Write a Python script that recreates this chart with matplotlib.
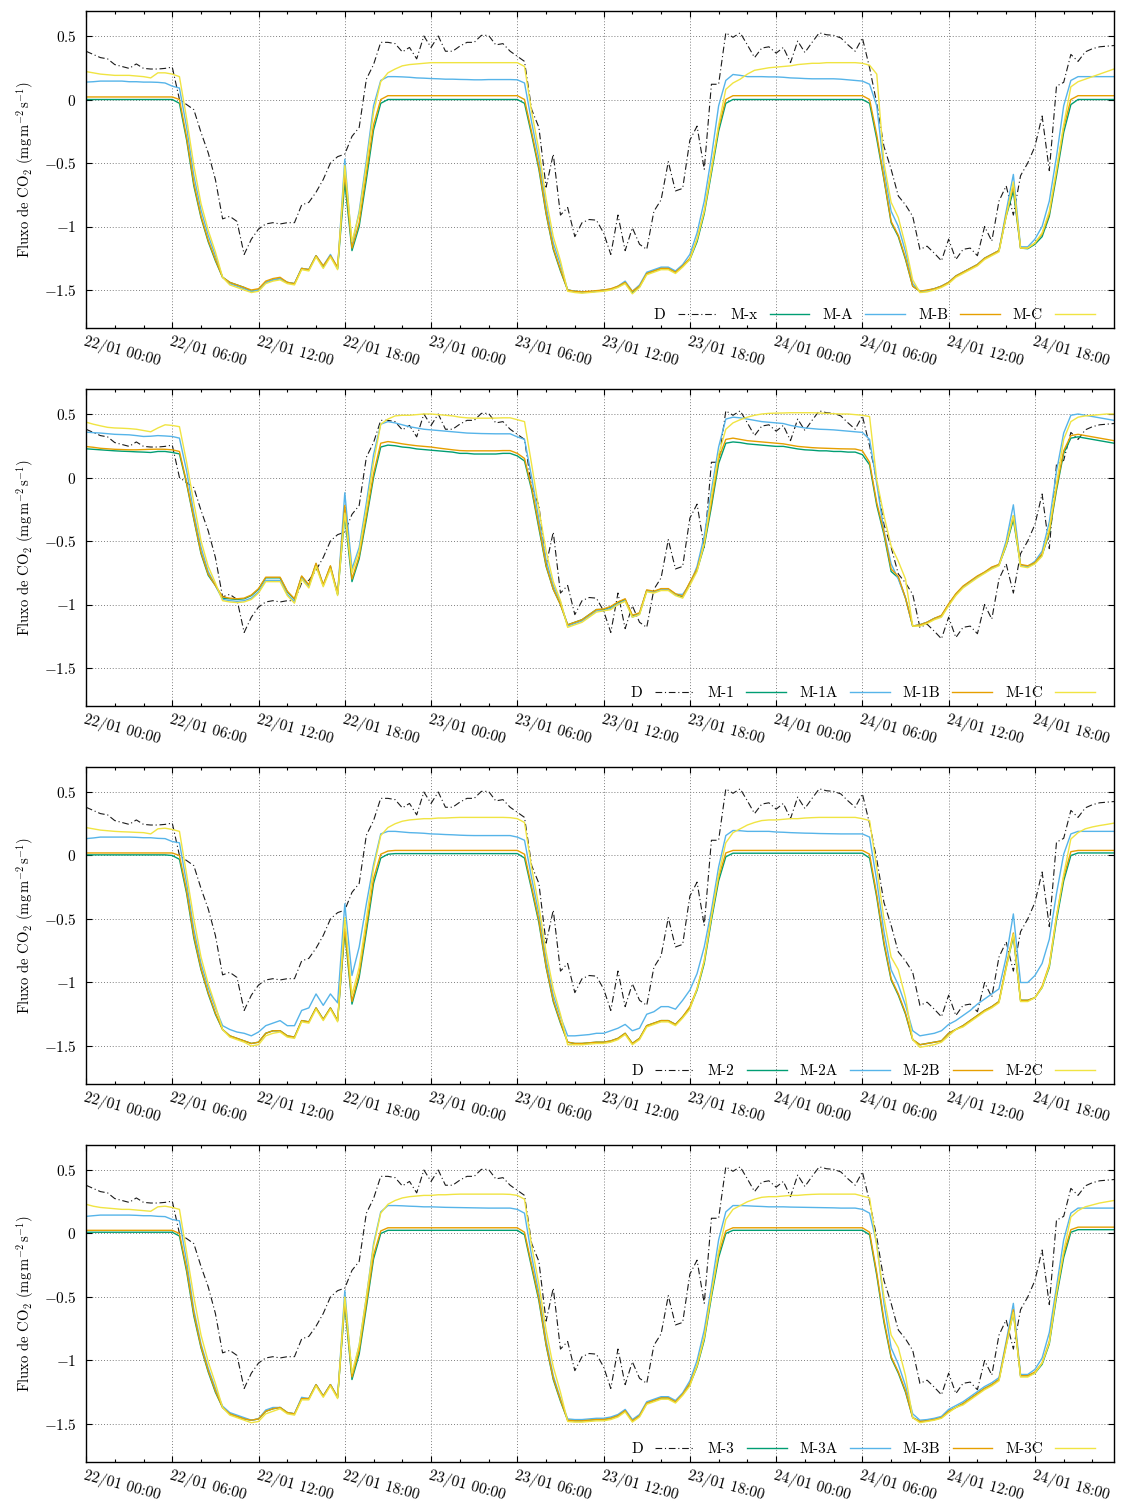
import matplotlib
matplotlib.use("Agg")
import matplotlib.pyplot as plt
import matplotlib.dates as mdates
from matplotlib.ticker import MultipleLocator, FuncFormatter
import pandas as pd

plt.rcParams["font.family"] = "serif"
plt.rcParams["font.serif"] = ["cmr10"]
plt.rcParams["mathtext.fontset"] = "cm"
plt.rcParams["axes.formatter.use_mathtext"] = True

# half-hourly time stamps, 22/01 00:00 -> 24/01 23:30
times = pd.date_range("2016-01-22 00:00", periods=144, freq="30min")

# measured flux (same in every panel)
obs = [0.38, 0.355, 0.33, 0.32, 0.275, 0.26, 0.245, 0.28, 0.245, 0.24, 0.24, 0.245,
       0.255, 0.0, -0.04, -0.08, -0.26, -0.42, -0.63, -0.94, -0.92, -0.96, -1.22, -1.10,
       -1.02, -0.98, -0.97, -0.98, -0.97, -0.97, -0.83, -0.81, -0.73, -0.63, -0.50, -0.45,
       -0.43, -0.29, -0.22, 0.16, 0.275, 0.45, 0.45, 0.44, 0.375, 0.41, 0.32, 0.50,
       0.41, 0.50, 0.38, 0.38, 0.42, 0.45, 0.45, 0.505, 0.505, 0.43, 0.44, 0.38,
       0.34, 0.30, -0.08, -0.22, -0.69, -0.43, -0.91, -0.85, -1.08, -0.97, -0.945, -0.95,
       -1.05, -1.22, -0.91, -1.19, -1.01, -1.14, -1.18, -0.88, -0.79, -0.49, -0.72, -0.70,
       -0.32, -0.21, -0.55, 0.12, 0.12, 0.525, 0.49, 0.525, 0.43, 0.33, 0.405, 0.415,
       0.365, 0.41, 0.29, 0.46, 0.37, 0.45, 0.525, 0.51, 0.505, 0.485, 0.43, 0.38,
       0.485, 0.25, -0.03, -0.37, -0.55, -0.76, -0.83, -0.92, -1.18, -1.155, -1.21, -1.27,
       -1.10, -1.26, -1.18, -1.17, -1.23, -1.0, -1.115, -0.80, -0.68, -0.91, -0.60, -0.50,
       -0.37, -0.13, -0.56, 0.105, 0.135, 0.355, 0.30, 0.375, 0.40, 0.415, 0.42, 0.425]

# ---- panel 1 ----
mx = [0.0, 0.0, 0.0, 0.0, 0.0, 0.0, 0.0, 0.0, 0.0, 0.0, 0.0, 0.0,
      0.0, -0.03, -0.32, -0.68, -0.93, -1.12, -1.27, -1.40, -1.44, -1.46, -1.48, -1.51,
      -1.50, -1.44, -1.42, -1.41, -1.44, -1.45, -1.33, -1.34, -1.23, -1.32, -1.23, -1.33,
      -0.65, -1.19, -1.00, -0.63, -0.24, -0.03, 0.0, 0.0, 0.0, 0.0, 0.0, 0.0,
      0.0, 0.0, 0.0, 0.0, 0.0, 0.0, 0.0, 0.0, 0.0, 0.0, 0.0, 0.0,
      0.0, -0.03, -0.28, -0.55, -0.90, -1.18, -1.35, -1.50, -1.51, -1.515, -1.515, -1.51,
      -1.50, -1.495, -1.475, -1.44, -1.52, -1.475, -1.37, -1.35, -1.33, -1.33, -1.36, -1.31,
      -1.26, -1.12, -0.90, -0.58, -0.25, -0.03, 0.0, 0.0, 0.0, 0.0, 0.0, 0.0,
      0.0, 0.0, 0.0, 0.0, 0.0, 0.0, 0.0, 0.0, 0.0, 0.0, 0.0, 0.0,
      0.0, -0.03, -0.31, -0.63, -0.97, -1.08, -1.26, -1.47, -1.51, -1.505, -1.49, -1.47,
      -1.44, -1.39, -1.36, -1.33, -1.30, -1.25, -1.22, -1.19, -0.92, -0.72, -1.17, -1.175,
      -1.14, -1.08, -0.92, -0.60, -0.26, -0.04, 0.0, 0.0, 0.0, 0.0, 0.0, 0.0]
mxa = [0.137, 0.14, 0.145, 0.145, 0.145, 0.145, 0.14, 0.14, 0.137, 0.137, 0.135, 0.13,
       0.105, 0.09, -0.22, -0.60, -0.87, -1.07, -1.23, -1.40, -1.45, -1.47, -1.49, -1.51,
       -1.50, -1.44, -1.42, -1.41, -1.44, -1.45, -1.33, -1.34, -1.23, -1.31, -1.22, -1.33,
       -0.47, -1.15, -0.88, -0.48, -0.05, 0.15, 0.18, 0.18, 0.178, 0.175, 0.17, 0.168,
       0.165, 0.163, 0.16, 0.16, 0.158, 0.157, 0.155, 0.155, 0.157, 0.157, 0.157, 0.157,
       0.155, 0.13, -0.18, -0.47, -0.84, -1.13, -1.30, -1.50, -1.51, -1.52, -1.515, -1.51,
       -1.50, -1.495, -1.47, -1.43, -1.51, -1.46, -1.36, -1.34, -1.32, -1.32, -1.35, -1.30,
       -1.22, -1.05, -0.80, -0.45, -0.05, 0.15, 0.197, 0.19, 0.18, 0.18, 0.18, 0.178,
       0.178, 0.175, 0.17, 0.168, 0.165, 0.163, 0.163, 0.163, 0.163, 0.16, 0.155, 0.15,
       0.145, 0.12, -0.05, -0.55, -0.88, -1.00, -1.20, -1.45, -1.51, -1.505, -1.49, -1.47,
       -1.44, -1.39, -1.36, -1.33, -1.30, -1.25, -1.22, -1.19, -0.88, -0.59, -1.16, -1.16,
       -1.10, -1.00, -0.80, -0.45, -0.05, 0.15, 0.18, 0.18, 0.18, 0.18, 0.18, 0.18]
mxb = [0.02, 0.02, 0.02, 0.02, 0.02, 0.02, 0.02, 0.02, 0.02, 0.02, 0.02, 0.02,
       0.02, 0.0, -0.30, -0.66, -0.92, -1.11, -1.26, -1.40, -1.44, -1.46, -1.48, -1.50,
       -1.49, -1.43, -1.41, -1.40, -1.44, -1.45, -1.33, -1.34, -1.23, -1.31, -1.23, -1.32,
       -0.58, -1.17, -0.97, -0.58, -0.20, 0.0, 0.03, 0.03, 0.03, 0.03, 0.03, 0.03,
       0.03, 0.03, 0.03, 0.03, 0.03, 0.03, 0.03, 0.03, 0.03, 0.03, 0.03, 0.03,
       0.03, 0.0, -0.26, -0.53, -0.89, -1.17, -1.34, -1.50, -1.51, -1.515, -1.51, -1.505,
       -1.50, -1.49, -1.47, -1.44, -1.51, -1.47, -1.37, -1.35, -1.33, -1.33, -1.36, -1.31,
       -1.25, -1.10, -0.88, -0.55, -0.22, 0.0, 0.03, 0.03, 0.03, 0.03, 0.03, 0.03,
       0.03, 0.03, 0.03, 0.03, 0.03, 0.03, 0.03, 0.03, 0.03, 0.03, 0.03, 0.03,
       0.03, 0.0, -0.28, -0.62, -0.96, -1.07, -1.25, -1.47, -1.51, -1.50, -1.49, -1.47,
       -1.44, -1.39, -1.36, -1.33, -1.30, -1.25, -1.22, -1.19, -0.91, -0.68, -1.17, -1.17,
       -1.13, -1.06, -0.90, -0.57, -0.22, 0.0, 0.03, 0.03, 0.03, 0.03, 0.03, 0.03]
mxc = [0.22, 0.21, 0.20, 0.195, 0.19, 0.19, 0.19, 0.185, 0.18, 0.17, 0.21, 0.21,
       0.20, 0.18, -0.15, -0.52, -0.82, -1.03, -1.20, -1.40, -1.46, -1.48, -1.50, -1.52,
       -1.51, -1.45, -1.43, -1.42, -1.45, -1.46, -1.34, -1.35, -1.24, -1.33, -1.24, -1.34,
       -0.52, -1.12, -0.90, -0.52, -0.10, 0.14, 0.21, 0.24, 0.265, 0.275, 0.28, 0.285,
       0.29, 0.29, 0.29, 0.29, 0.29, 0.29, 0.29, 0.29, 0.29, 0.29, 0.29, 0.29,
       0.29, 0.26, -0.10, -0.40, -0.78, -1.08, -1.27, -1.51, -1.52, -1.525, -1.52, -1.515,
       -1.51, -1.50, -1.48, -1.45, -1.53, -1.48, -1.38, -1.36, -1.34, -1.34, -1.37, -1.32,
       -1.26, -1.10, -0.88, -0.55, -0.20, 0.08, 0.13, 0.16, 0.20, 0.23, 0.24, 0.25,
       0.255, 0.26, 0.265, 0.275, 0.28, 0.285, 0.285, 0.29, 0.29, 0.29, 0.29, 0.29,
       0.285, 0.27, 0.20, -0.50, -0.81, -0.93, -1.15, -1.42, -1.52, -1.515, -1.50, -1.48,
       -1.45, -1.40, -1.37, -1.34, -1.31, -1.26, -1.23, -1.20, -0.92, -0.65, -1.17, -1.17,
       -1.13, -1.05, -0.88, -0.55, -0.20, 0.10, 0.14, 0.16, 0.18, 0.20, 0.22, 0.24]

# ---- panel 2 ----
m1 = [0.226, 0.222, 0.218, 0.214, 0.21, 0.207, 0.205, 0.202, 0.20, 0.197, 0.205, 0.205,
      0.197, 0.186, -0.05, -0.33, -0.60, -0.77, -0.85, -0.95, -0.955, -0.96, -0.955, -0.93,
      -0.88, -0.79, -0.79, -0.79, -0.90, -0.96, -0.78, -0.85, -0.68, -0.85, -0.70, -0.92,
      -0.30, -0.82, -0.64, -0.33, 0.0, 0.24, 0.255, 0.25, 0.24, 0.235, 0.225, 0.22,
      0.215, 0.21, 0.205, 0.20, 0.19, 0.19, 0.185, 0.185, 0.185, 0.185, 0.19, 0.19,
      0.17, 0.13, -0.10, -0.40, -0.70, -0.88, -1.00, -1.16, -1.14, -1.12, -1.08, -1.04,
      -1.04, -1.02, -0.985, -0.96, -1.09, -1.07, -0.89, -0.90, -0.88, -0.88, -0.92, -0.94,
      -0.83, -0.73, -0.54, -0.23, 0.11, 0.27, 0.28, 0.275, 0.265, 0.26, 0.255, 0.25,
      0.245, 0.245, 0.235, 0.225, 0.218, 0.215, 0.21, 0.21, 0.205, 0.205, 0.20, 0.20,
      0.18, 0.10, -0.22, -0.45, -0.74, -0.79, -0.95, -1.17, -1.16, -1.14, -1.11, -1.09,
      -1.00, -0.92, -0.86, -0.82, -0.78, -0.75, -0.71, -0.69, -0.54, -0.33, -0.69, -0.70,
      -0.675, -0.61, -0.44, -0.10, 0.19, 0.31, 0.32, 0.31, 0.30, 0.29, 0.28, 0.27]
m1a = [0.357, 0.353, 0.35, 0.345, 0.34, 0.338, 0.336, 0.33, 0.323, 0.325, 0.33, 0.327,
       0.323, 0.31, 0.05, -0.28, -0.55, -0.74, -0.85, -0.96, -0.97, -0.975, -0.97, -0.95,
       -0.90, -0.81, -0.81, -0.81, -0.92, -0.98, -0.79, -0.86, -0.69, -0.85, -0.71, -0.92,
       -0.12, -0.72, -0.55, -0.20, 0.18, 0.42, 0.44, 0.43, 0.415, 0.40, 0.39, 0.38,
       0.375, 0.37, 0.365, 0.36, 0.355, 0.35, 0.348, 0.346, 0.345, 0.344, 0.344, 0.344,
       0.32, 0.30, 0.0, -0.33, -0.65, -0.85, -0.98, -1.17, -1.15, -1.13, -1.09, -1.05,
       -1.05, -1.03, -0.995, -0.97, -1.10, -1.075, -0.89, -0.90, -0.88, -0.88, -0.92, -0.92,
       -0.84, -0.70, -0.46, -0.10, 0.24, 0.46, 0.475, 0.47, 0.46, 0.45, 0.44, 0.435,
       0.43, 0.425, 0.41, 0.40, 0.39, 0.385, 0.38, 0.378, 0.375, 0.37, 0.365, 0.36,
       0.355, 0.30, -0.05, -0.42, -0.68, -0.80, -0.95, -1.17, -1.16, -1.14, -1.11, -1.09,
       -1.00, -0.92, -0.86, -0.82, -0.78, -0.745, -0.71, -0.685, -0.50, -0.215, -0.69, -0.70,
       -0.66, -0.58, -0.35, 0.05, 0.35, 0.49, 0.50, 0.49, 0.48, 0.47, 0.46, 0.45]
m1b = [0.244, 0.238, 0.23, 0.226, 0.222, 0.22, 0.218, 0.218, 0.22, 0.222, 0.223, 0.222,
       0.218, 0.205, -0.04, -0.32, -0.59, -0.76, -0.85, -0.94, -0.95, -0.955, -0.95, -0.925,
       -0.875, -0.785, -0.785, -0.785, -0.895, -0.955, -0.775, -0.845, -0.675, -0.845, -0.695, -0.915,
       -0.22, -0.80, -0.62, -0.30, 0.03, 0.27, 0.283, 0.275, 0.265, 0.257, 0.25, 0.245,
       0.24, 0.232, 0.225, 0.218, 0.212, 0.21, 0.21, 0.21, 0.21, 0.21, 0.212, 0.212,
       0.19, 0.15, -0.08, -0.38, -0.69, -0.88, -1.00, -1.16, -1.14, -1.12, -1.08, -1.04,
       -1.035, -1.015, -0.98, -0.955, -1.085, -1.065, -0.885, -0.895, -0.875, -0.875, -0.915, -0.935,
       -0.825, -0.72, -0.52, -0.20, 0.15, 0.30, 0.31, 0.30, 0.29, 0.285, 0.28, 0.275,
       0.27, 0.265, 0.255, 0.245, 0.24, 0.235, 0.232, 0.23, 0.228, 0.226, 0.225, 0.224,
       0.21, 0.12, -0.20, -0.43, -0.72, -0.78, -0.95, -1.17, -1.16, -1.14, -1.11, -1.085,
       -0.995, -0.915, -0.855, -0.815, -0.775, -0.745, -0.705, -0.685, -0.53, -0.30, -0.685, -0.695,
       -0.67, -0.60, -0.43, -0.08, 0.21, 0.33, 0.34, 0.33, 0.32, 0.31, 0.30, 0.29]
m1c = [0.436, 0.42, 0.407, 0.395, 0.39, 0.388, 0.385, 0.38, 0.37, 0.36, 0.39, 0.415,
       0.41, 0.40, 0.12, -0.20, -0.50, -0.70, -0.83, -0.97, -0.98, -0.985, -0.98, -0.96,
       -0.91, -0.82, -0.82, -0.82, -0.93, -0.99, -0.80, -0.87, -0.70, -0.86, -0.72, -0.93,
       -0.28, -0.75, -0.58, -0.25, 0.12, 0.42, 0.46, 0.485, 0.49, 0.49, 0.495, 0.50,
       0.50, 0.495, 0.49, 0.485, 0.475, 0.47, 0.467, 0.467, 0.467, 0.468, 0.47, 0.47,
       0.455, 0.44, 0.10, -0.25, -0.58, -0.82, -0.97, -1.18, -1.16, -1.14, -1.10, -1.06,
       -1.05, -1.04, -1.00, -0.975, -1.10, -1.08, -0.90, -0.91, -0.89, -0.89, -0.93, -0.95,
       -0.85, -0.74, -0.52, -0.15, 0.18, 0.38, 0.43, 0.455, 0.475, 0.49, 0.50, 0.505,
       0.507, 0.508, 0.51, 0.51, 0.51, 0.51, 0.508, 0.505, 0.502, 0.50, 0.50, 0.495,
       0.49, 0.48, -0.02, -0.30, -0.54, -0.66, -0.80, -1.17, -1.17, -1.15, -1.12, -1.10,
       -1.01, -0.93, -0.87, -0.83, -0.79, -0.755, -0.72, -0.695, -0.53, -0.30, -0.70, -0.71,
       -0.68, -0.62, -0.40, -0.05, 0.30, 0.44, 0.475, 0.485, 0.49, 0.495, 0.50, 0.50]

# ---- panel 3 ----
m2 = [0.005, 0.005, 0.005, 0.005, 0.005, 0.005, 0.005, 0.005, 0.005, 0.005, 0.005, 0.005,
      0.0, -0.03, -0.30, -0.65, -0.90, -1.09, -1.25, -1.37, -1.42, -1.44, -1.46, -1.48,
      -1.47, -1.40, -1.38, -1.38, -1.42, -1.43, -1.30, -1.31, -1.20, -1.29, -1.20, -1.30,
      -0.60, -1.17, -0.96, -0.60, -0.22, -0.02, 0.01, 0.015, 0.015, 0.015, 0.015, 0.015,
      0.015, 0.015, 0.015, 0.015, 0.015, 0.015, 0.015, 0.015, 0.015, 0.015, 0.015, 0.015,
      0.015, -0.02, -0.27, -0.53, -0.88, -1.15, -1.32, -1.47, -1.48, -1.48, -1.475, -1.47,
      -1.47, -1.46, -1.44, -1.40, -1.48, -1.44, -1.34, -1.32, -1.30, -1.30, -1.33, -1.27,
      -1.20, -1.06, -0.85, -0.51, -0.20, -0.01, 0.018, 0.018, 0.018, 0.018, 0.018, 0.018,
      0.018, 0.018, 0.018, 0.018, 0.018, 0.018, 0.018, 0.018, 0.018, 0.018, 0.018, 0.018,
      0.018, -0.02, -0.33, -0.70, -0.98, -1.10, -1.25, -1.45, -1.49, -1.48, -1.47, -1.46,
      -1.40, -1.37, -1.34, -1.30, -1.26, -1.22, -1.19, -1.15, -0.88, -0.64, -1.14, -1.14,
      -1.12, -1.04, -0.88, -0.51, -0.20, 0.0, 0.02, 0.02, 0.02, 0.02, 0.02, 0.02]
m2a = [0.133, 0.138, 0.145, 0.145, 0.145, 0.145, 0.145, 0.143, 0.14, 0.14, 0.135, 0.133,
       0.11, 0.10, -0.22, -0.58, -0.85, -1.04, -1.20, -1.34, -1.37, -1.39, -1.40, -1.42,
       -1.39, -1.34, -1.32, -1.30, -1.34, -1.34, -1.22, -1.20, -1.09, -1.18, -1.09, -1.16,
       -0.38, -0.945, -0.72, -0.38, -0.07, 0.17, 0.19, 0.19, 0.185, 0.18, 0.178, 0.175,
       0.17, 0.168, 0.165, 0.163, 0.16, 0.158, 0.157, 0.157, 0.157, 0.157, 0.157, 0.157,
       0.145, 0.12, -0.18, -0.46, -0.82, -1.10, -1.27, -1.42, -1.42, -1.415, -1.41, -1.40,
       -1.40, -1.38, -1.36, -1.33, -1.38, -1.36, -1.25, -1.23, -1.19, -1.19, -1.21, -1.14,
       -1.06, -0.93, -0.72, -0.43, -0.09, 0.157, 0.197, 0.195, 0.19, 0.19, 0.19, 0.19,
       0.185, 0.183, 0.18, 0.178, 0.176, 0.175, 0.173, 0.172, 0.171, 0.17, 0.17, 0.17,
       0.17, 0.145, -0.20, -0.60, -0.90, -1.02, -1.18, -1.38, -1.42, -1.41, -1.40, -1.38,
       -1.33, -1.30, -1.26, -1.22, -1.17, -1.13, -1.09, -1.05, -0.80, -0.46, -1.00, -1.00,
       -0.945, -0.85, -0.66, -0.30, 0.01, 0.17, 0.19, 0.19, 0.19, 0.19, 0.19, 0.19]
m2b = [0.02, 0.02, 0.02, 0.02, 0.02, 0.02, 0.02, 0.02, 0.02, 0.02, 0.02, 0.02,
       0.02, 0.0, -0.28, -0.63, -0.89, -1.08, -1.24, -1.37, -1.42, -1.44, -1.46, -1.48,
       -1.47, -1.40, -1.38, -1.38, -1.42, -1.43, -1.30, -1.31, -1.20, -1.29, -1.20, -1.30,
       -0.57, -1.15, -0.93, -0.56, -0.18, 0.01, 0.035, 0.04, 0.04, 0.04, 0.04, 0.04,
       0.04, 0.04, 0.04, 0.04, 0.04, 0.04, 0.04, 0.04, 0.04, 0.04, 0.04, 0.04,
       0.04, 0.01, -0.25, -0.51, -0.87, -1.14, -1.31, -1.47, -1.48, -1.48, -1.475, -1.47,
       -1.47, -1.46, -1.44, -1.40, -1.48, -1.44, -1.34, -1.32, -1.30, -1.30, -1.33, -1.27,
       -1.19, -1.05, -0.83, -0.48, -0.17, 0.02, 0.04, 0.04, 0.04, 0.04, 0.04, 0.04,
       0.04, 0.04, 0.04, 0.04, 0.04, 0.04, 0.04, 0.04, 0.04, 0.04, 0.04, 0.04,
       0.04, 0.01, -0.31, -0.68, -0.97, -1.09, -1.24, -1.45, -1.49, -1.48, -1.47, -1.46,
       -1.40, -1.37, -1.34, -1.30, -1.26, -1.22, -1.19, -1.15, -0.87, -0.61, -1.14, -1.14,
       -1.12, -1.03, -0.86, -0.48, -0.17, 0.03, 0.04, 0.04, 0.04, 0.04, 0.04, 0.04]
m2c = [0.22, 0.21, 0.20, 0.195, 0.19, 0.187, 0.185, 0.182, 0.18, 0.17, 0.21, 0.215,
       0.205, 0.19, -0.15, -0.50, -0.80, -1.01, -1.18, -1.37, -1.43, -1.45, -1.47, -1.50,
       -1.49, -1.42, -1.40, -1.39, -1.43, -1.44, -1.31, -1.32, -1.21, -1.30, -1.21, -1.31,
       -0.49, -1.10, -0.88, -0.50, -0.10, 0.157, 0.22, 0.25, 0.27, 0.28, 0.285, 0.29,
       0.29, 0.295, 0.295, 0.298, 0.30, 0.30, 0.30, 0.30, 0.30, 0.30, 0.30, 0.298,
       0.29, 0.26, -0.10, -0.40, -0.76, -1.05, -1.25, -1.49, -1.49, -1.49, -1.485, -1.48,
       -1.48, -1.47, -1.45, -1.41, -1.49, -1.45, -1.35, -1.33, -1.31, -1.31, -1.34, -1.28,
       -1.21, -1.05, -0.83, -0.48, -0.15, 0.10, 0.18, 0.21, 0.24, 0.26, 0.275, 0.28,
       0.28, 0.285, 0.29, 0.29, 0.295, 0.298, 0.30, 0.30, 0.30, 0.30, 0.30, 0.30,
       0.29, 0.275, -0.10, -0.50, -0.80, -0.90, -1.12, -1.45, -1.51, -1.50, -1.49, -1.47,
       -1.42, -1.37, -1.35, -1.31, -1.27, -1.23, -1.20, -1.16, -0.89, -0.62, -1.15, -1.15,
       -1.12, -1.04, -0.87, -0.48, -0.15, 0.13, 0.18, 0.21, 0.225, 0.236, 0.245, 0.255]

# ---- panel 4 ----
m3 = [0.01, 0.01, 0.01, 0.01, 0.01, 0.01, 0.01, 0.01, 0.01, 0.01, 0.01, 0.01,
      0.01, -0.02, -0.30, -0.65, -0.90, -1.09, -1.25, -1.37, -1.42, -1.44, -1.46, -1.47,
      -1.46, -1.40, -1.38, -1.37, -1.41, -1.42, -1.30, -1.30, -1.19, -1.28, -1.19, -1.29,
      -0.56, -1.15, -0.95, -0.58, -0.20, 0.0, 0.025, 0.025, 0.025, 0.025, 0.025, 0.025,
      0.025, 0.025, 0.025, 0.025, 0.025, 0.025, 0.025, 0.025, 0.025, 0.025, 0.025, 0.025,
      0.025, -0.01, -0.27, -0.53, -0.88, -1.15, -1.32, -1.47, -1.475, -1.475, -1.47, -1.465,
      -1.465, -1.455, -1.435, -1.395, -1.475, -1.435, -1.335, -1.315, -1.295, -1.295, -1.325, -1.265,
      -1.19, -1.05, -0.84, -0.50, -0.19, 0.0, 0.025, 0.025, 0.025, 0.025, 0.025, 0.025,
      0.025, 0.025, 0.025, 0.025, 0.025, 0.025, 0.025, 0.025, 0.025, 0.025, 0.025, 0.025,
      0.025, -0.01, -0.33, -0.70, -0.98, -1.10, -1.25, -1.45, -1.48, -1.475, -1.465, -1.45,
      -1.40, -1.37, -1.34, -1.30, -1.26, -1.22, -1.19, -1.15, -0.88, -0.62, -1.12, -1.12,
      -1.10, -1.03, -0.87, -0.50, -0.19, 0.01, 0.03, 0.03, 0.03, 0.03, 0.03, 0.03]
m3a = [0.135, 0.14, 0.145, 0.145, 0.145, 0.145, 0.145, 0.143, 0.14, 0.14, 0.135, 0.133,
       0.11, 0.10, -0.22, -0.60, -0.87, -1.06, -1.22, -1.36, -1.41, -1.43, -1.45, -1.47,
       -1.46, -1.39, -1.37, -1.37, -1.41, -1.42, -1.29, -1.30, -1.19, -1.28, -1.19, -1.29,
       -0.45, -1.12, -0.88, -0.50, -0.08, 0.17, 0.22, 0.22, 0.218, 0.215, 0.213, 0.21,
       0.21, 0.208, 0.206, 0.205, 0.204, 0.203, 0.202, 0.201, 0.20, 0.20, 0.20, 0.20,
       0.19, 0.16, -0.18, -0.47, -0.84, -1.12, -1.30, -1.46, -1.465, -1.465, -1.46, -1.455,
       -1.455, -1.445, -1.425, -1.385, -1.465, -1.425, -1.325, -1.305, -1.285, -1.285, -1.315, -1.255,
       -1.16, -1.00, -0.76, -0.42, -0.05, 0.17, 0.22, 0.22, 0.218, 0.215, 0.213, 0.21,
       0.21, 0.21, 0.208, 0.207, 0.206, 0.205, 0.204, 0.203, 0.202, 0.20, 0.20, 0.20,
       0.19, 0.16, -0.08, -0.55, -0.90, -1.03, -1.20, -1.42, -1.47, -1.465, -1.455, -1.44,
       -1.385, -1.355, -1.325, -1.285, -1.245, -1.205, -1.175, -1.135, -0.85, -0.55, -1.11, -1.11,
       -1.07, -0.98, -0.78, -0.42, -0.05, 0.16, 0.20, 0.20, 0.20, 0.20, 0.20, 0.20]
m3b = [0.025, 0.025, 0.025, 0.025, 0.025, 0.025, 0.025, 0.025, 0.025, 0.025, 0.025, 0.025,
       0.025, 0.0, -0.28, -0.63, -0.89, -1.08, -1.24, -1.37, -1.42, -1.44, -1.46, -1.47,
       -1.46, -1.40, -1.38, -1.37, -1.41, -1.42, -1.30, -1.30, -1.19, -1.28, -1.19, -1.29,
       -0.53, -1.13, -0.92, -0.55, -0.17, 0.02, 0.045, 0.045, 0.045, 0.045, 0.045, 0.045,
       0.045, 0.045, 0.045, 0.045, 0.045, 0.045, 0.045, 0.045, 0.045, 0.045, 0.045, 0.045,
       0.045, 0.01, -0.25, -0.51, -0.87, -1.14, -1.31, -1.47, -1.475, -1.475, -1.47, -1.465,
       -1.465, -1.455, -1.435, -1.395, -1.475, -1.435, -1.335, -1.315, -1.295, -1.295, -1.325, -1.265,
       -1.18, -1.04, -0.82, -0.47, -0.16, 0.02, 0.045, 0.045, 0.045, 0.045, 0.045, 0.045,
       0.045, 0.045, 0.045, 0.045, 0.045, 0.045, 0.045, 0.045, 0.045, 0.045, 0.045, 0.045,
       0.045, 0.01, -0.31, -0.68, -0.97, -1.09, -1.24, -1.45, -1.48, -1.475, -1.465, -1.45,
       -1.40, -1.37, -1.34, -1.30, -1.26, -1.22, -1.19, -1.15, -0.87, -0.60, -1.12, -1.12,
       -1.09, -1.02, -0.85, -0.47, -0.16, 0.03, 0.05, 0.05, 0.05, 0.05, 0.05, 0.05]
m3c = [0.23, 0.215, 0.205, 0.20, 0.195, 0.19, 0.19, 0.185, 0.18, 0.175, 0.21, 0.215,
       0.205, 0.19, -0.15, -0.50, -0.80, -1.01, -1.18, -1.37, -1.43, -1.45, -1.47, -1.49,
       -1.48, -1.42, -1.40, -1.38, -1.42, -1.43, -1.31, -1.31, -1.20, -1.29, -1.20, -1.30,
       -0.50, -1.10, -0.88, -0.50, -0.10, 0.16, 0.23, 0.26, 0.28, 0.29, 0.295, 0.30,
       0.30, 0.305, 0.305, 0.308, 0.31, 0.31, 0.31, 0.31, 0.31, 0.31, 0.31, 0.308,
       0.30, 0.27, -0.10, -0.40, -0.76, -1.05, -1.25, -1.48, -1.485, -1.485, -1.48, -1.475,
       -1.475, -1.465, -1.445, -1.405, -1.485, -1.445, -1.345, -1.325, -1.305, -1.305, -1.335, -1.275,
       -1.20, -1.04, -0.82, -0.47, -0.14, 0.11, 0.19, 0.22, 0.25, 0.27, 0.285, 0.29,
       0.29, 0.295, 0.30, 0.30, 0.305, 0.308, 0.31, 0.31, 0.31, 0.31, 0.31, 0.31,
       0.295, 0.28, -0.10, -0.50, -0.80, -0.90, -1.12, -1.45, -1.49, -1.48, -1.47, -1.455,
       -1.41, -1.37, -1.35, -1.31, -1.27, -1.23, -1.20, -1.16, -0.89, -0.62, -1.13, -1.13,
       -1.10, -1.02, -0.86, -0.47, -0.14, 0.13, 0.18, 0.21, 0.225, 0.24, 0.25, 0.26]

panels = [
    (["M-x", "M-A", "M-B", "M-C"], [mx, mxa, mxb, mxc]),
    (["M-1", "M-1A", "M-1B", "M-1C"], [m1, m1a, m1b, m1c]),
    (["M-2", "M-2A", "M-2B", "M-2C"], [m2, m2a, m2b, m2c]),
    (["M-3", "M-3A", "M-3B", "M-3C"], [m3, m3a, m3b, m3c]),
]
colors = ["#009e73", "#56b4e9", "#e69f00", "#f0e442"]

W, H = 1121, 1504
fig = plt.figure(figsize=(W / 100, H / 100), dpi=100)

for k, (names, series) in enumerate(panels):
    top = 10.6 + 378 * k
    h = 317.5
    ax = fig.add_axes([86 / W, 1 - (top + h) / H, 1028 / W, h / H])

    ax.plot(times, obs, color="#1a1a1a", lw=0.8, dashes=(6, 2.5, 1, 2.5), label="D")
    for name, vals, c in zip(names, series, colors):
        ax.plot(times, vals, color=c, lw=1.0, label=name)

    ax.set_xlim(times[0], times[-1])
    ax.set_ylim(-1.8, 0.7)
    ax.yaxis.set_major_locator(MultipleLocator(0.5))
    ax.yaxis.set_major_formatter(FuncFormatter(lambda v, p: "$%g$" % round(v, 2)))
    ax.xaxis.set_major_locator(mdates.HourLocator(byhour=[0, 6, 12, 18]))
    ax.xaxis.set_minor_locator(mdates.HourLocator(byhour=range(0, 24, 2)))
    ax.xaxis.set_major_formatter(mdates.DateFormatter("%d/%m %H:%M"))

    ax.tick_params(which="both", direction="in", top=True, right=True, labelsize=11)
    ax.tick_params(which="major", length=4.5, width=0.8)
    ax.tick_params(which="minor", length=2.5, width=0.8)
    ax.tick_params(axis="y", pad=7)
    ax.tick_params(axis="x", pad=4)
    for lab in ax.get_xticklabels():
        lab.set_rotation(-15)
        lab.set_ha("left")
        lab.set_va("top")
        lab.set_rotation_mode("anchor")

    ax.grid(True, which="major", color="#808080", lw=0.7, ls=(0, (1, 2)))
    for s in ax.spines.values():
        s.set_linewidth(1.0)

    ax.set_ylabel(r"Fluxo de CO$_2$ ($\mathrm{mg\,m^{-2}\,s^{-1}}$)", fontsize=10.5)
    ax.yaxis.set_label_coords(-0.048, 0.5)

    ax.legend(loc="lower right", bbox_to_anchor=(1 - 19 / 1028, 6 / h), ncol=5,
              frameon=False, markerfirst=False, fontsize=11, handlelength=2.6,
              handletextpad=0.8, columnspacing=0.85, borderaxespad=0, borderpad=0)

fig.savefig("out.png", dpi=100)
